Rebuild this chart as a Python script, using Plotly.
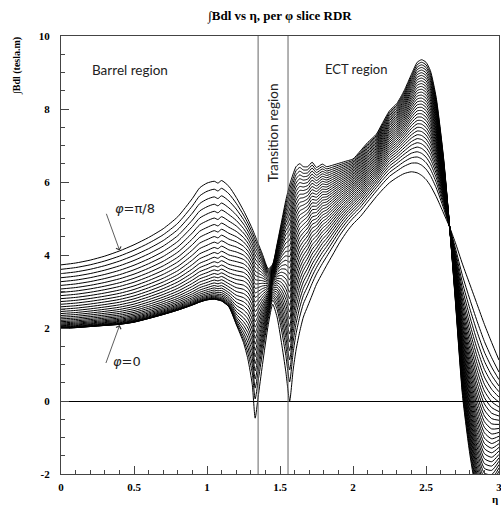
import numpy as np
import plotly.graph_objects as go

# ---------------- data ----------------
eta = [0.0, 0.1, 0.2, 0.3, 0.4, 0.5, 0.6, 0.7, 0.8, 0.9, 0.95, 1.0, 1.05, 1.075, 1.1,
       1.15, 1.2, 1.25, 1.28, 1.31, 1.33, 1.35, 1.38, 1.42, 1.45, 1.48, 1.51, 1.54,
       1.566, 1.59, 1.61, 1.635, 1.66, 1.69, 1.72, 1.75, 1.79, 1.82, 1.86, 1.91, 1.96,
       2.0, 2.05, 2.1, 2.16, 2.2, 2.25, 2.3, 2.35, 2.4, 2.44, 2.47, 2.5, 2.53, 2.57,
       2.62, 2.66, 2.7, 2.75, 2.8, 2.85, 2.9, 2.95, 3.0]

# slice phi = 0
bdl_phi0 = [1.99, 2.01, 2.04, 2.07, 2.10, 2.16, 2.26, 2.37, 2.49, 2.63, 2.71, 2.77, 2.79, 2.77, 2.74,
            2.58, 2.1, 1.6, 1.15, 0.45, -0.47, 0.1, 1.0, 2.1, 2.65, 2.3, 1.6, 0.8,
            0.0, 0.85, 1.4, 1.9, 2.3, 2.6, 2.9, 3.2, 3.5, 3.72, 4.0, 4.35, 4.65,
            4.85, 5.05, 5.3, 5.6, 5.78, 5.98, 6.12, 6.23, 6.28, 6.25, 6.18, 6.07, 5.9, 5.6,
            5.15, 4.78, 4.35, 3.75, 3.2, 2.65, 2.1, 1.6, 1.12]

# slice phi = pi/8
bdl_phi_pi8 = [3.73, 3.78, 3.86, 3.97, 4.11, 4.28, 4.48, 4.72, 5.05, 5.55, 5.84, 5.97, 6.02, 5.97, 6.04,
               5.88, 5.58, 5.22, 4.98, 4.72, 4.52, 4.32, 4.02, 3.62, 3.75, 4.3, 4.9, 5.5,
               5.92, 6.22, 6.42, 6.5, 6.42, 6.42, 6.54, 6.40, 6.49, 6.42, 6.46, 6.52, 6.58,
               6.63, 6.85, 7.08, 7.31, 7.6, 7.95, 8.15, 8.5, 8.95, 9.28, 9.35, 9.28, 9.05, 8.31,
               6.67, 4.86, 2.8, 0.15, -1.45, -2.6, -3.2, -3.1, -2.6]

# how the intermediate phi slices are packed between the two extremes (exponent per eta)
slice_packing = [2.3, 2.3, 2.3, 2.3, 2.3, 2.3, 2.3, 2.3, 2.3, 2.3, 2.3, 2.3, 2.2, 2.2, 2.1,
                 2.0, 1.5, 1.1, 0.9, 0.75, 0.65, 0.65, 0.65, 0.65, 0.65, 0.65, 0.65, 0.68,
                 0.7, 0.7, 0.7, 0.7, 0.7, 0.7, 0.7, 0.7, 0.7, 0.7, 0.7, 0.7, 0.7,
                 0.7, 0.7, 0.7, 0.7, 0.7, 0.7, 0.7, 0.7, 0.7, 0.7, 0.7, 0.7, 0.7, 0.7,
                 0.7, 0.7, 0.7, 0.7, 0.7, 0.7, 0.7, 0.7, 0.7]

n_slices = 33
region_edges = [1.35, 1.555]

x_ticks = [0, 0.5, 1, 1.5, 2, 2.5, 3]
x_ticktext = ["0", "0.5", "1", "1.5", "2", "2.5", "3"]
y_ticks = [-2, 0, 2, 4, 6, 8, 10]
y_ticktext = ["-2", "0", "2", "4", "6", "8", "10"]

assert len(eta) == len(bdl_phi0) == len(bdl_phi_pi8) == len(slice_packing)

# ---------------- figure ----------------
A = np.array(bdl_phi0)
B = np.array(bdl_phi_pi8)
P = np.array(slice_packing)

fig = go.Figure()
for k in range(n_slices):
    t = k / (n_slices - 1)
    y = A + (t ** P) * (B - A)
    fig.add_trace(go.Scatter(
        x=eta, y=y, mode="lines",
        line=dict(color="black", width=1.0, shape="spline", smoothing=0.6),
        hoverinfo="skip", showlegend=False))

for xe in region_edges:
    fig.add_vline(x=xe, line=dict(color="#666666", width=1))

serif_bold = dict(family="Liberation Serif", color="black", weight="bold")
greek_font = dict(family="DejaVu Sans", size=13, color="#222222")

fig.update_layout(
    width=501, height=507, autosize=False,
    margin=dict(l=61, r=2, t=36, b=33, autoexpand=False),
    plot_bgcolor="white", paper_bgcolor="white",
    showlegend=False,
    title=dict(text="∫Bdl vs η, per φ slice RDR",
               font=dict(size=13, **serif_bold),
               x=0.5, xref="paper", xanchor="center",
               y=1 - 15 / 507, yref="container", yanchor="middle"),
    xaxis=dict(range=[0, 3], tickmode="array", tickvals=x_ticks, ticktext=x_ticktext,
               ticks="inside", ticklen=8, tickwidth=1, tickcolor="#444444",
               minor=dict(ticks="inside", ticklen=4, tick0=0, dtick=0.1, tickcolor="#444444"),
               showgrid=False, zeroline=False, automargin=False,
               showline=True, mirror=True, linecolor="#444444", linewidth=1.2,
               ticklabeloverflow="allow",
               tickfont=dict(size=11, **serif_bold), ticklabelstandoff=3),
    yaxis=dict(range=[-2, 10], tickmode="array", tickvals=y_ticks, ticktext=y_ticktext,
               ticks="inside", ticklen=8, tickwidth=1, tickcolor="#444444",
               minor=dict(ticks="inside", ticklen=4, tick0=0, dtick=0.5, tickcolor="#444444"),
               showgrid=False, zeroline=True, zerolinecolor="black", zerolinewidth=1,
               automargin=False,
               showline=True, mirror=True, linecolor="#444444", linewidth=1.2,
               ticklabeloverflow="allow",
               tickfont=dict(size=11, **serif_bold), ticklabelstandoff=8),
)

annotations = [
    dict(x=0.47, y=9.06, text="Barrel region", showarrow=False,
         font=dict(family="Lato", size=13.5, color="#222222")),
    dict(x=2.02, y=9.1, text="ECT region", showarrow=False,
         font=dict(family="Lato", size=13, color="#222222")),
    dict(x=1.452, y=7.36, text="Transition region", showarrow=False, textangle=-90,
         font=dict(family="Lato", size=13.5, color="#222222")),
    dict(x=0.51, y=5.27, text="<i>φ</i>=π/8", showarrow=False, font=greek_font),
    dict(x=0.45, y=1.09, text="<i>φ</i>=0", showarrow=False, font=greek_font),
    dict(x=0.402, y=4.12, ax=0.307, ay=5.17, axref="x", ayref="y", text="", showarrow=True,
         arrowhead=4, arrowsize=1.3, arrowwidth=0.8, arrowcolor="#333333"),
    dict(x=0.402, y=2.08, ax=0.304, ay=1.0, axref="x", ayref="y", text="", showarrow=True,
         arrowhead=4, arrowsize=1.3, arrowwidth=0.8, arrowcolor="#333333"),
    dict(xref="paper", yref="paper", x=(17 - 61) / 438, y=(474 - 66) / 438,
         xanchor="center", yanchor="middle",
         text="∫Bdl (tesla.m)", textangle=-90, showarrow=False,
         font=dict(size=10, **serif_bold)),
    dict(xref="paper", yref="paper", x=(500 - 61) / 438, y=(474 - 499) / 438,
         xanchor="right", yanchor="middle", text="η", showarrow=False,
         font=dict(size=11, **serif_bold)),
]
for a in annotations:
    a.setdefault("xref", "x")
    a.setdefault("yref", "y")
    fig.add_annotation(**a)

page_fix = ("document.body.style.margin='0';document.body.style.padding='0';"
            "document.body.style.overflow='hidden';"
            "document.documentElement.style.overflow='hidden';"
            "Plotly.relayout('{plot_id}', {width: 501, height: 507});")

fig.write_html("out.html", config={"responsive": False, "displayModeBar": False},
               post_script=page_fix)
